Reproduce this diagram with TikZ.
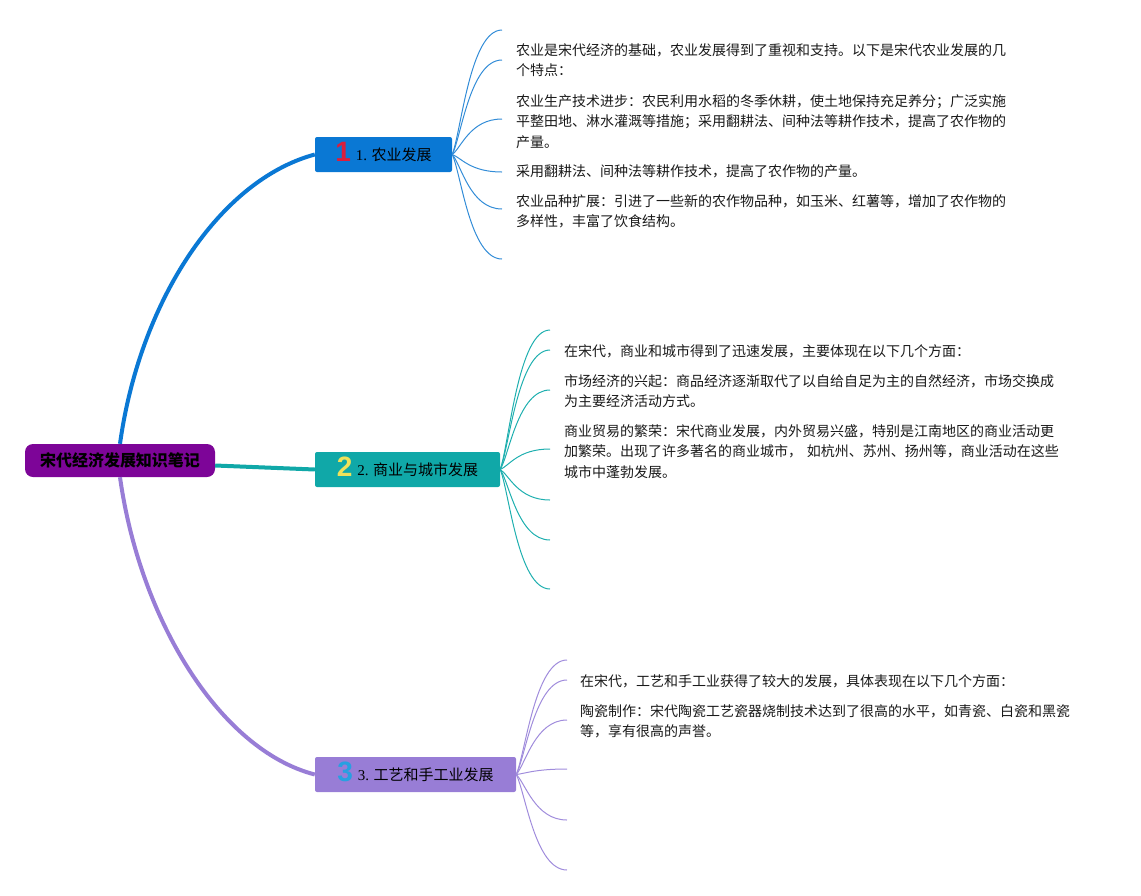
\documentclass[tikz,border=0pt]{standalone}
\usepackage{fontspec}
\setmainfont{Noto Sans CJK SC}
\newfontfamily\lat{Liberation Serif}
\newfontfamily\numf{Liberation Sans}
\usetikzlibrary{calc}
\definecolor{rootc}{RGB}{125,5,152}
\definecolor{bluec}{RGB}{10,120,212}
\definecolor{tealc}{RGB}{16,168,168}
\definecolor{lavc}{RGB}{152,125,214}
\definecolor{lblue}{RGB}{50,140,215}
\definecolor{lteal}{RGB}{30,175,175}
\definecolor{llav}{RGB}{160,140,220}
\definecolor{numred}{RGB}{220,30,60}
\definecolor{numyel}{RGB}{240,225,90}
\definecolor{numblu}{RGB}{40,160,225}
\definecolor{txt}{RGB}{25,25,25}
\tikzset{
  rootbox/.style={draw=none, fill=rootc, rounded corners=8pt, minimum height=33pt, minimum width=190pt, inner sep=0pt,
    font=\fontsize{16}{16}\selectfont\bfseries, text=black},
  branchbox/.style={draw=none, rounded corners=2pt, minimum height=35pt, inner sep=0pt, text=black},
  para/.style={anchor=base west, inner sep=0pt, text width=540pt, align=left, text=txt,
    font=\fontsize{14}{20.5}\selectfont},
  mainline/.style={line width=4pt},
  leafline/.style={line width=1pt},
  leaf/.style={to path={.. controls ($(\tikztostart)!0.18!(\tikztotarget)$) and ($(\tikztotarget)+(-32,0)$) .. (\tikztotarget)}}
}
\newcommand{\bnum}[2]{\smash{\raisebox{-1.5pt}{\numf\bfseries\fontsize{28}{28}\selectfont\color{#1}#2}}\hspace{5pt}}
\newcommand{\blab}[2]{{\fontsize{15}{15}\selectfont{\lat #1} #2}}
\begin{document}
\begin{tikzpicture}[x=1pt,y=-1pt]
\useasboundingbox (0,0) rectangle (1141,895);

% root and branches
\node[rootbox] (root) at (120,460.5) {宋代经济发展知识笔记};
\node[branchbox, fill=bluec, minimum width=137pt] (b1) at (383.5,154.5) {\bnum{numred}{1}\blab{1.}{农业发展}};
\node[branchbox, fill=tealc, minimum width=185pt] (b2) at (407.5,469.5) {\bnum{numyel}{2}\blab{2.}{商业与城市发展}};
\node[branchbox, fill=lavc, minimum width=201pt] (b3) at (415.5,774.5) {\bnum{numblu}{3}\blab{3.}{工艺和手工业发展}};

% main connectors
\draw[mainline, bluec] (root.north) .. controls (140,300) and (220,180) .. (b1.west);
\draw[mainline, tealc] ([yshift=-5pt]root.east) -- (b2.west);
\draw[mainline, lavc] (root.south) .. controls (140,620) and (220,750) .. (b3.west);

% leaf end points
\foreach \i/\y in {1/30,2/60,3/119,4/172,5/209,6/259} \coordinate (b1e\i) at (502,\y);
\foreach \i/\y in {1/330,2/350,3/390,4/449,5/500,6/540,7/589} \coordinate (b2e\i) at (550,\y);
\foreach \i/\y in {1/660,2/680,3/720,4/769,5/820,6/870} \coordinate (b3e\i) at (567,\y);

\foreach \i in {1,...,6} \draw[leafline, lblue] (b1.east) to[leaf] (b1e\i);
\foreach \i in {1,...,7} \draw[leafline, lteal] (b2.east) to[leaf] (b2e\i);
\foreach \i in {1,...,6} \draw[leafline, llav] (b3.east) to[leaf] (b3e\i);

% texts branch 1
\node[para] (t11) at (516,55) {农业是宋代经济的基础，农业发展得到了重视和支持。以下是宋代农业发展的几\\个特点：};
\node[para] (t12) at (516,106) {农业生产技术进步：农民利用水稻的冬季休耕，使土地保持充足养分；广泛实施\\平整田地、淋水灌溉等措施；采用翻耕法、间种法等耕作技术，提高了农作物的\\产量。};
\node[para] (t13) at (516,176) {采用翻耕法、间种法等耕作技术，提高了农作物的产量。};
\node[para] (t14) at (516,206) {农业品种扩展：引进了一些新的农作物品种，如玉米、红薯等，增加了农作物的\\多样性，丰富了饮食结构。};

% texts branch 2
\node[para] (t21) at (564,356) {在宋代，商业和城市得到了迅速发展，主要体现在以下几个方面：};
\node[para] (t22) at (564,386) {市场经济的兴起：商品经济逐渐取代了以自给自足为主的自然经济，市场交换成\\为主要经济活动方式。};
\node[para] (t23) at (564,436) {商业贸易的繁荣：宋代商业发展，内外贸易兴盛，特别是江南地区的商业活动更\\加繁荣。出现了许多著名的商业城市， 如杭州、苏州、扬州等，商业活动在这些\\城市中蓬勃发展。};

% texts branch 3
\node[para] (t31) at (580,686) {在宋代，工艺和手工业获得了较大的发展，具体表现在以下几个方面：};
\node[para] (t32) at (580,716) {陶瓷制作：宋代陶瓷工艺瓷器烧制技术达到了很高的水平，如青瓷、白瓷和黑瓷\\等，享有很高的声誉。};
\end{tikzpicture}
\end{document}
